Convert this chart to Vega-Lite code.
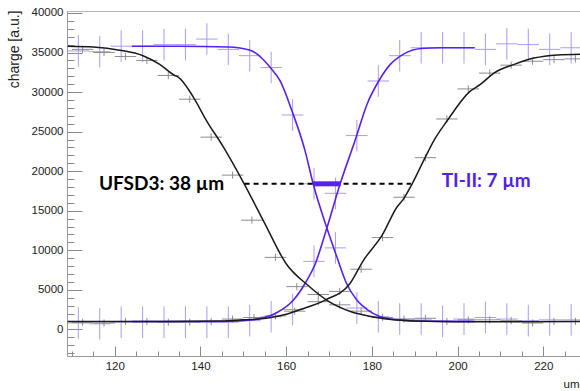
{
  "$schema": "https://vega.github.io/schema/vega-lite/v6.json",
  "width": 514,
  "height": 345,
  "autosize": {"type": "none"},
  "padding": {"left": 67, "top": 11, "right": 0, "bottom": 35},
  "background": "white",
  "config": {"view": {"stroke": "#b5b5b5"}, "font": "Liberation Sans"},
  "datasets": {
    "blackPts": [
      {"x": 112.5, "y": 35400, "ex": 2.5, "ey": 450}, {"x": 117.5, "y": 35000, "ex": 2.5, "ey": 450}, {"x": 122.5, "y": 34500, "ex": 2.5, "ey": 450}, {"x": 127.5, "y": 34000, "ex": 2.5, "ey": 450},
      {"x": 132.5, "y": 32100, "ex": 2.5, "ey": 450}, {"x": 137.5, "y": 29100, "ex": 2.5, "ey": 450}, {"x": 142.5, "y": 24300, "ex": 2.5, "ey": 450}, {"x": 147.5, "y": 19500, "ex": 2.5, "ey": 450},
      {"x": 152, "y": 13800, "ex": 2.5, "ey": 450}, {"x": 157.5, "y": 9100, "ex": 2.5, "ey": 450}, {"x": 162.5, "y": 5400, "ex": 2.5, "ey": 450}, {"x": 167.5, "y": 3500, "ex": 2.5, "ey": 450},
      {"x": 172.5, "y": 3100, "ex": 2.5, "ey": 450}, {"x": 177.5, "y": 2300, "ex": 2.5, "ey": 450}, {"x": 182.5, "y": 1500, "ex": 2.5, "ey": 450}, {"x": 187.5, "y": 1300, "ex": 2.5, "ey": 450},
      {"x": 192.5, "y": 1400, "ex": 2.5, "ey": 450}, {"x": 197.5, "y": 1000, "ex": 2.5, "ey": 450}, {"x": 202.5, "y": 1200, "ex": 2.5, "ey": 450}, {"x": 207.5, "y": 1200, "ex": 2.5, "ey": 450},
      {"x": 212.5, "y": 1100, "ex": 2.5, "ey": 450}, {"x": 217.5, "y": 800, "ex": 2.5, "ey": 450}, {"x": 222.5, "y": 1000, "ex": 2.5, "ey": 450}, {"x": 227.5, "y": 1000, "ex": 2.5, "ey": 450},
      {"x": 112.5, "y": 900, "ex": 2.5, "ey": 450}, {"x": 117.5, "y": 800, "ex": 2.5, "ey": 450}, {"x": 122.5, "y": 1000, "ex": 2.5, "ey": 450}, {"x": 127.5, "y": 1000, "ex": 2.5, "ey": 450},
      {"x": 132.5, "y": 900, "ex": 2.5, "ey": 450}, {"x": 137.5, "y": 900, "ex": 2.5, "ey": 450}, {"x": 142.5, "y": 1000, "ex": 2.5, "ey": 450}, {"x": 147.5, "y": 1300, "ex": 2.5, "ey": 450},
      {"x": 152.5, "y": 1500, "ex": 2.5, "ey": 450}, {"x": 157.5, "y": 1700, "ex": 2.5, "ey": 450}, {"x": 162, "y": 2300, "ex": 2.5, "ey": 450}, {"x": 167.5, "y": 4400, "ex": 2.5, "ey": 450},
      {"x": 172.5, "y": 4800, "ex": 2.5, "ey": 450}, {"x": 177.5, "y": 7600, "ex": 2.5, "ey": 450}, {"x": 182.5, "y": 11600, "ex": 2.5, "ey": 450}, {"x": 187.5, "y": 16700, "ex": 2.5, "ey": 450},
      {"x": 192.5, "y": 21700, "ex": 2.5, "ey": 450}, {"x": 197.5, "y": 26600, "ex": 2.5, "ey": 450}, {"x": 202.5, "y": 30400, "ex": 2.5, "ey": 450}, {"x": 207.5, "y": 32400, "ex": 2.5, "ey": 450},
      {"x": 212.5, "y": 33400, "ex": 2.5, "ey": 450}, {"x": 217.5, "y": 33900, "ex": 2.5, "ey": 450}, {"x": 222.5, "y": 34100, "ex": 2.5, "ey": 450}, {"x": 227.5, "y": 34200, "ex": 2.5, "ey": 450}
    ],
    "bluePts": [
      {"x": 111.5, "y": 35200, "ex": 2.5, "ey": 2000}, {"x": 116.5, "y": 35100, "ex": 2.5, "ey": 2000}, {"x": 121.5, "y": 35800, "ex": 2.5, "ey": 2000}, {"x": 126.5, "y": 35800, "ex": 2.5, "ey": 2000},
      {"x": 131.5, "y": 36000, "ex": 2.5, "ey": 2000}, {"x": 136.5, "y": 36000, "ex": 2.5, "ey": 2000}, {"x": 141.5, "y": 36700, "ex": 2.5, "ey": 2000}, {"x": 146.5, "y": 35400, "ex": 2.5, "ey": 2000},
      {"x": 151.5, "y": 34600, "ex": 2.5, "ey": 2000}, {"x": 156.5, "y": 33100, "ex": 2.5, "ey": 2000}, {"x": 161.5, "y": 27100, "ex": 2.5, "ey": 2000}, {"x": 166.5, "y": 18400, "ex": 2.5, "ey": 2000},
      {"x": 171.5, "y": 10300, "ex": 2.5, "ey": 2000}, {"x": 176.5, "y": 2700, "ex": 2.5, "ey": 2000}, {"x": 181.5, "y": 1600, "ex": 2.5, "ey": 2000}, {"x": 186.5, "y": 1300, "ex": 2.5, "ey": 2000},
      {"x": 191.5, "y": 1300, "ex": 2.5, "ey": 2000}, {"x": 196.5, "y": 1000, "ex": 2.5, "ey": 2000}, {"x": 201.5, "y": 1300, "ex": 2.5, "ey": 2000}, {"x": 206.5, "y": 1500, "ex": 2.5, "ey": 2000},
      {"x": 211.5, "y": 1300, "ex": 2.5, "ey": 2000}, {"x": 216.5, "y": 1100, "ex": 2.5, "ey": 2000}, {"x": 221.5, "y": 1200, "ex": 2.5, "ey": 2000}, {"x": 226.5, "y": 1200, "ex": 2.5, "ey": 2000},
      {"x": 111.5, "y": 800, "ex": 2.5, "ey": 2000}, {"x": 116.5, "y": 700, "ex": 2.5, "ey": 2000}, {"x": 121.5, "y": 900, "ex": 2.5, "ey": 2000}, {"x": 126.5, "y": 900, "ex": 2.5, "ey": 2000},
      {"x": 131.5, "y": 900, "ex": 2.5, "ey": 2000}, {"x": 136.5, "y": 900, "ex": 2.5, "ey": 2000}, {"x": 141.5, "y": 900, "ex": 2.5, "ey": 2000}, {"x": 146.5, "y": 900, "ex": 2.5, "ey": 2000},
      {"x": 151.5, "y": 1100, "ex": 2.5, "ey": 2000}, {"x": 156.5, "y": 1600, "ex": 2.5, "ey": 2000}, {"x": 161.5, "y": 2500, "ex": 2.5, "ey": 2000}, {"x": 166.5, "y": 8600, "ex": 2.5, "ey": 2000},
      {"x": 171.5, "y": 17200, "ex": 2.5, "ey": 2000}, {"x": 176.5, "y": 24500, "ex": 2.5, "ey": 2000}, {"x": 181.5, "y": 31400, "ex": 2.5, "ey": 2000}, {"x": 186.5, "y": 34600, "ex": 2.5, "ey": 2000},
      {"x": 191.5, "y": 35600, "ex": 2.5, "ey": 2000}, {"x": 196.5, "y": 35600, "ex": 2.5, "ey": 2000}, {"x": 201.5, "y": 35600, "ex": 2.5, "ey": 2000}, {"x": 206.5, "y": 35400, "ex": 2.5, "ey": 2000},
      {"x": 211.5, "y": 36100, "ex": 2.5, "ey": 2000}, {"x": 216.5, "y": 36000, "ex": 2.5, "ey": 2000}, {"x": 221.5, "y": 35400, "ex": 2.5, "ey": 2000}, {"x": 226.5, "y": 35600, "ex": 2.5, "ey": 2000}
    ],
    "blackCurve": [
      {"s": "fall", "x": 109, "y": 35800}, {"s": "fall", "x": 115, "y": 35700}, {"s": "fall", "x": 121.2, "y": 35300},
      {"s": "fall", "x": 126.6, "y": 34600}, {"s": "fall", "x": 130.5, "y": 33500}, {"s": "fall", "x": 134, "y": 32100},
      {"s": "fall", "x": 134.8, "y": 31900}, {"s": "fall", "x": 138.3, "y": 29400}, {"s": "fall", "x": 141.4, "y": 26400},
      {"s": "fall", "x": 145.3, "y": 23100}, {"s": "fall", "x": 150.2, "y": 18400}, {"s": "fall", "x": 155, "y": 13400},
      {"s": "fall", "x": 160, "y": 8300}, {"s": "fall", "x": 165, "y": 5600}, {"s": "fall", "x": 170, "y": 3500},
      {"s": "fall", "x": 175, "y": 2250}, {"s": "fall", "x": 180, "y": 1600}, {"s": "fall", "x": 185, "y": 1200},
      {"s": "fall", "x": 190, "y": 1050}, {"s": "fall", "x": 200, "y": 950}, {"s": "fall", "x": 215, "y": 950},
      {"s": "fall", "x": 229, "y": 1000},
      {"s": "rise", "x": 109, "y": 1000}, {"s": "rise", "x": 130, "y": 1000}, {"s": "rise", "x": 145, "y": 1050},
      {"s": "rise", "x": 150, "y": 1200}, {"s": "rise", "x": 155.4, "y": 1400}, {"s": "rise", "x": 160, "y": 1900},
      {"s": "rise", "x": 163.3, "y": 2500}, {"s": "rise", "x": 169.1, "y": 3700}, {"s": "rise", "x": 174.9, "y": 5800},
      {"s": "rise", "x": 178, "y": 8700}, {"s": "rise", "x": 182.4, "y": 11900}, {"s": "rise", "x": 185.9, "y": 15500},
      {"s": "rise", "x": 187.4, "y": 16500}, {"s": "rise", "x": 189.4, "y": 18400}, {"s": "rise", "x": 192.5, "y": 21800},
      {"s": "rise", "x": 194.5, "y": 23900}, {"s": "rise", "x": 197.6, "y": 26400}, {"s": "rise", "x": 202.7, "y": 30000},
      {"s": "rise", "x": 205.4, "y": 31000}, {"s": "rise", "x": 208.5, "y": 32400}, {"s": "rise", "x": 213.2, "y": 33500},
      {"s": "rise", "x": 217.8, "y": 34300}, {"s": "rise", "x": 223.3, "y": 34700}, {"s": "rise", "x": 229, "y": 34800}
    ],
    "blueCurve": [
      {"s": "fall", "x": 124, "y": 35800}, {"s": "fall", "x": 135, "y": 35800}, {"s": "fall", "x": 146.5, "y": 35700},
      {"s": "fall", "x": 151.6, "y": 35300}, {"s": "fall", "x": 156.3, "y": 33100}, {"s": "fall", "x": 158.6, "y": 31400},
      {"s": "fall", "x": 161.3, "y": 27700}, {"s": "fall", "x": 164.4, "y": 22600}, {"s": "fall", "x": 166.3, "y": 18400},
      {"s": "fall", "x": 169.5, "y": 12800}, {"s": "fall", "x": 171.8, "y": 9200}, {"s": "fall", "x": 174.1, "y": 5800},
      {"s": "fall", "x": 176.5, "y": 3700}, {"s": "fall", "x": 178.9, "y": 2500}, {"s": "fall", "x": 182, "y": 1600},
      {"s": "fall", "x": 186, "y": 1200}, {"s": "fall", "x": 190, "y": 1050}, {"s": "fall", "x": 204, "y": 1000},
      {"s": "rise", "x": 124, "y": 1000}, {"s": "rise", "x": 145, "y": 1000}, {"s": "rise", "x": 150, "y": 1100},
      {"s": "rise", "x": 155, "y": 1500}, {"s": "rise", "x": 157.8, "y": 2100}, {"s": "rise", "x": 161.7, "y": 3700},
      {"s": "rise", "x": 164.4, "y": 5800}, {"s": "rise", "x": 166.8, "y": 8300}, {"s": "rise", "x": 169.5, "y": 12800},
      {"s": "rise", "x": 172.6, "y": 18400}, {"s": "rise", "x": 176.1, "y": 23900}, {"s": "rise", "x": 178.9, "y": 28500},
      {"s": "rise", "x": 181.6, "y": 31400}, {"s": "rise", "x": 184.3, "y": 33500}, {"s": "rise", "x": 187.4, "y": 34800},
      {"s": "rise", "x": 191.5, "y": 35500}, {"s": "rise", "x": 196, "y": 35600}, {"s": "rise", "x": 204, "y": 35600}
    ]
  },
  "layer": [
    {
      "data": {"name": "bluePts"},
      "layer": [
        {
          "mark": {"type": "errorbar", "color": "#a99bf7", "thickness": 1},
          "encoding": {
            "x": {"field": "x", "type": "quantitative", "axis": null},
            "xError": {"field": "ex"},
            "y": {"field": "y", "type": "quantitative", "axis": null}
          }
        },
        {
          "mark": {"type": "errorbar", "color": "#a99bf7", "thickness": 1},
          "encoding": {
            "x": {"field": "x", "type": "quantitative", "axis": null},
            "y": {"field": "y", "type": "quantitative", "axis": null},
            "yError": {"field": "ey"}
          }
        }
      ]
    },
    {
      "data": {"name": "blackPts"},
      "layer": [
        {
          "mark": {"type": "errorbar", "color": "#8c8c8c", "thickness": 1},
          "encoding": {
            "x": {"field": "x", "type": "quantitative", "axis": null},
            "xError": {"field": "ex"},
            "y": {"field": "y", "type": "quantitative", "axis": null}
          }
        },
        {
          "mark": {"type": "errorbar", "color": "#8c8c8c", "thickness": 1},
          "encoding": {
            "x": {"field": "x", "type": "quantitative", "axis": null},
            "y": {"field": "y", "type": "quantitative", "axis": null},
            "yError": {"field": "ey"}
          }
        }
      ]
    },
    {
      "data": {"name": "blueCurve"},
      "mark": {"type": "line", "color": "#5522f0", "strokeWidth": 1.6, "interpolate": "monotone"},
      "encoding": {
        "x": {"field": "x", "type": "quantitative",
              "scale": {"domain": [108.86, 228.8], "nice": false, "zero": false},
              "axis": {"orient": "bottom", "values": [110, 115, 125, 130, 135, 145, 150, 155, 165, 170, 175, 185, 190, 195, 205, 210, 215, 225],
                       "labels": false, "tickSize": -5, "tickColor": "#8a8a8a", "domain": false, "grid": false, "title": null}},
        "y": {"field": "y", "type": "quantitative",
              "scale": {"domain": [-3370, 40250], "nice": false, "zero": false},
              "axis": {"orient": "left", "values": [-3000, -2000, -1000, 1000, 2000, 3000, 4000, 6000, 7000, 8000, 9000, 11000, 12000, 13000, 14000, 16000, 17000, 18000, 19000, 21000, 22000, 23000, 24000, 26000, 27000, 28000, 29000, 31000, 32000, 33000, 34000, 36000, 37000, 38000, 39000],
                       "labels": false, "tickSize": -7, "tickColor": "#8a8a8a", "domain": false, "grid": false, "title": null}},
        "detail": {"field": "s"}
      }
    },
    {
      "data": {"name": "blackCurve"},
      "mark": {"type": "line", "color": "#1a1a1a", "strokeWidth": 1.5, "interpolate": "monotone"},
      "encoding": {
        "x": {"field": "x", "type": "quantitative",
              "axis": {"orient": "bottom", "values": [120, 140, 160, 180, 200, 220], "tickSize": -10, "tickColor": "#8a8a8a",
                       "domainColor": "#9a9a9a", "grid": false, "labelFontSize": 11.5, "labelColor": "#222", "labelPadding": 14,
                       "title": "um", "titleFontSize": 11.5, "titleFontWeight": "normal", "titleColor": "#222",
                       "titleAlign": "left", "titleBaseline": "middle", "titleX": 496, "titleY": 28}},
        "y": {"field": "y", "type": "quantitative",
              "axis": {"orient": "left", "values": [0, 5000, 10000, 15000, 20000, 25000, 30000, 35000, 40000], "format": "d", "tickSize": -15, "tickColor": "#8a8a8a",
                       "domainColor": "#9a9a9a", "grid": false, "labelFontSize": 11.5, "labelColor": "#222", "labelPadding": 19,
                       "title": "charge [a.u.]", "titleFontSize": 14, "titleFontWeight": "normal", "titleColor": "#222",
                       "titleAngle": -90, "titleAlign": "right", "titleBaseline": "middle", "titleX": -53, "titleY": -1}},
        "detail": {"field": "s"}
      }
    },
    {
      "data": {"values": [{"a": 150.3, "b": 189.1, "y": 18400}]},
      "mark": {"type": "rule", "color": "black", "strokeWidth": 2, "strokeDash": [5, 4]},
      "encoding": {
        "x": {"field": "a", "type": "quantitative", "axis": null},
        "x2": {"field": "b"},
        "y": {"field": "y", "type": "quantitative", "axis": null}
      }
    },
    {
      "data": {"values": [{"a": 166.3, "b": 172.7, "y": 18400}]},
      "mark": {"type": "rule", "color": "#5522f0", "strokeWidth": 5},
      "encoding": {
        "x": {"field": "a", "type": "quantitative", "axis": null},
        "x2": {"field": "b"},
        "y": {"field": "y", "type": "quantitative", "axis": null}
      }
    },
    {
      "data": {"values": [{"x": 116.3, "y": 18400, "label": "UFSD3: 38 µm"}]},
      "mark": {"type": "text", "font": "Lato", "fontWeight": "bold", "fontSize": 19, "align": "left", "baseline": "middle", "color": "black"},
      "encoding": {
        "x": {"field": "x", "type": "quantitative", "axis": null},
        "y": {"field": "y", "type": "quantitative", "axis": null},
        "text": {"field": "label"}
      }
    },
    {
      "data": {"values": [{"x": 196.3, "y": 18800, "label": "TI-II: 7 µm"}]},
      "mark": {"type": "text", "font": "Lato", "fontWeight": "bold", "fontSize": 19, "align": "left", "baseline": "middle", "color": "#4f22e8"},
      "encoding": {
        "x": {"field": "x", "type": "quantitative", "axis": null},
        "y": {"field": "y", "type": "quantitative", "axis": null},
        "text": {"field": "label"}
      }
    }
  ],
  "resolve": {"axis": {"x": "independent", "y": "independent"}}
}
